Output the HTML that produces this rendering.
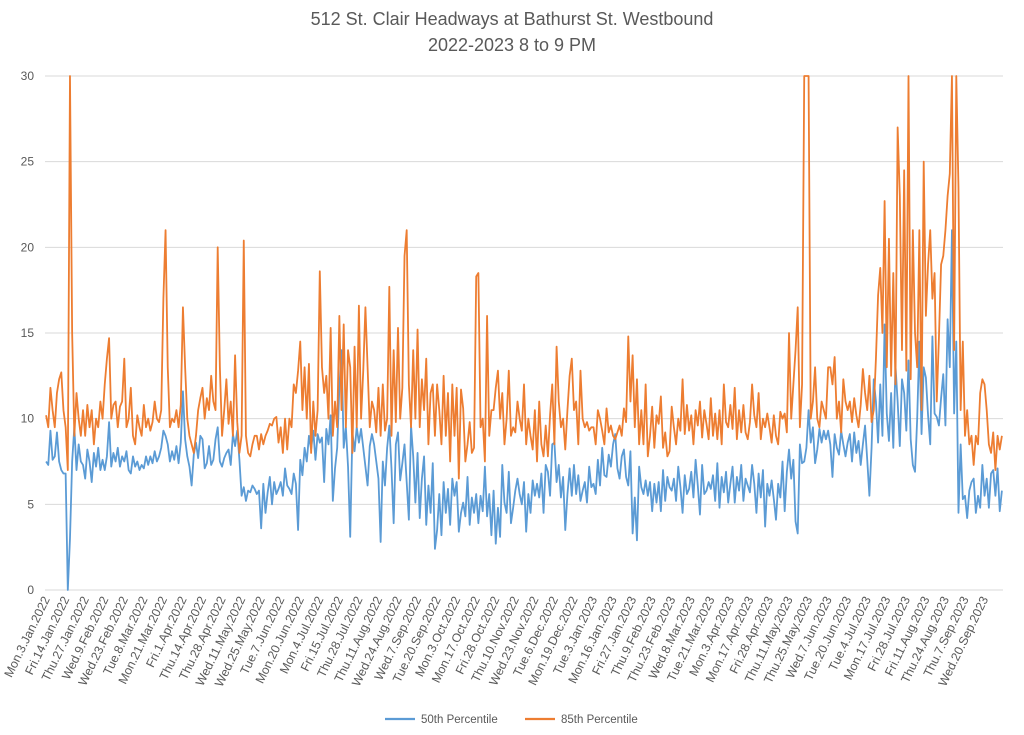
<!DOCTYPE html>
<html><head><meta charset="utf-8"><style>
html,body{margin:0;padding:0;background:#fff;}
svg{display:block;font-family:"Liberation Sans",sans-serif;}
</style></head><body>
<svg id="chart" width="1024" height="735" viewBox="0 0 1024 735">
<text x="512" y="25" text-anchor="middle" font-size="18" fill="#595959">512 St. Clair Headways at Bathurst St. Westbound</text>
<text x="512" y="51" text-anchor="middle" font-size="18" fill="#595959">2022-2023 8 to 9 PM</text>
<g id="grid"></g><g id="yticks"></g><g id="xticks"></g><g id="series"></g>
<g>
<line x1="385" y1="719" x2="415" y2="719" stroke="#5b9bd5" stroke-width="2.2"/>
<text x="421" y="723" font-size="11.5" fill="#595959">50th Percentile</text>
<line x1="525" y1="719" x2="555" y2="719" stroke="#ed7d31" stroke-width="2.2"/>
<text x="561" y="723" font-size="11.5" fill="#595959">85th Percentile</text>
</g>
</svg>
<script>
const yTicks=[0,5,10,15,20,25,30];
const dateLabels=["Mon.3.Jan.2022","Fri.14.Jan.2022","Thu.27.Jan.2022","Wed.9.Feb.2022","Wed.23.Feb.2022","Tue.8.Mar.2022","Mon.21.Mar.2022","Fri.1.Apr.2022","Thu.14.Apr.2022","Thu.28.Apr.2022","Wed.11.May.2022","Wed.25.May.2022","Tue.7.Jun.2022","Mon.20.Jun.2022","Mon.4.Jul.2022","Fri.15.Jul.2022","Thu.28.Jul.2022","Thu.11.Aug.2022","Wed.24.Aug.2022","Wed.7.Sep.2022","Tue.20.Sep.2022","Mon.3.Oct.2022","Mon.17.Oct.2022","Fri.28.Oct.2022","Thu.10.Nov.2022","Wed.23.Nov.2022","Tue.6.Dec.2022","Mon.19.Dec.2022","Tue.3.Jan.2023","Mon.16.Jan.2023","Fri.27.Jan.2023","Thu.9.Feb.2023","Thu.23.Feb.2023","Wed.8.Mar.2023","Tue.21.Mar.2023","Mon.3.Apr.2023","Mon.17.Apr.2023","Fri.28.Apr.2023","Thu.11.May.2023","Thu.25.May.2023","Wed.7.Jun.2023","Tue.20.Jun.2023","Tue.4.Jul.2023","Mon.17.Jul.2023","Fri.28.Jul.2023","Fri.11.Aug.2023","Thu.24.Aug.2023","Thu.7.Sep.2023","Wed.20.Sep.2023"];
const p85=[10.2,9.5,11.8,10.5,9.5,11.5,12.3,12.7,10.5,
9.5,7,30,15,9,11.5,10,9,10.5,
9,10.8,9.5,10.5,8.5,10,9.5,11,10,
12,13.5,14.7,10,10.8,11,9.5,10.7,11,
13.5,9.5,10,11.8,9,8.5,10.2,9.5,9,
10.8,9.5,10,9.3,9.8,11,10,9.8,10.5,
17,21,13,9.5,10,9.8,10.5,9.5,10.8,
16.5,13,10,9,8.5,8,9,10.5,11.2,
11.8,10,11.2,10.5,12.5,11,10.5,20,13,
9,10.5,12.3,9.7,11,9,13.7,9.8,8,
9,20.4,9,8,7.8,8.5,9,9,8.2,
9.1,8.5,9,9.3,9.7,9.6,10,10.1,8.6,
9.5,8,10,8.2,10,9.5,12,11.5,12.8,
14.5,10.5,13,10,13.2,8,11,9,10.5,
18.6,13,11.5,12.5,10,15.3,9,11,9.5,
16,10.5,15.5,9.5,14,13,8,14.2,9.5,
16.6,10,12.8,16.5,13,9.5,11,10.5,9.2,
11.8,9,12,9.3,10,17.7,9,14,9.8,
15.3,10,11.8,19.5,21,12,9.5,14,10,
15.2,9.5,12.3,10.5,13.5,8.5,11.5,12,9,
12,10.5,8.5,12.5,9,11.5,7.5,12,9,
11.8,6.5,11.7,10.6,7.5,8.5,9.8,8,8.3,
18.3,18.5,9.5,10,7.5,16,9,10.5,10.5,
11.8,12.8,10,11.5,8.5,10,12.8,9,9.5,
9.2,11,10,9.3,12,8.5,10,9,8.2,
10.5,7.5,11,8.5,7.8,9.6,7.8,10.2,12,
8.5,14.2,11,9.5,10,8.2,10.5,12.5,13.5,
10.5,11,8.5,12.8,10,9.5,9.8,9.3,9.5,
9.5,8.5,10.5,10,9.3,8.5,10.6,9.2,9.6,
9,8.8,9.2,9.6,9,10.6,9.8,14.8,11,
13.7,9.5,12.3,8.5,10.5,8.5,12,7.8,9,
10.7,8.3,10.2,9.7,11.3,8.3,9.2,7.8,8.1,
10.7,9.5,8.5,10,9.3,12.3,9.1,10.8,9.3,
10.2,8.5,10.5,9.6,11,8.9,10.5,9.7,8.8,
11.2,9,10.3,8.8,10.5,8.5,12,9.8,9.5,
10.8,9.4,11.8,8.8,10.5,9.2,10.8,9.2,8.8,
9.8,12,10.2,9.5,11.5,8.8,10,9.5,10.3,
9.5,8.6,10.2,9,8.5,10.4,10,10.3,9.2,
15,10,12,14,16.5,9.5,12,30,30,
30,10,11,13,10,9.5,11,10.5,10,
13,13,12,13.6,10,11,9.2,12.3,11,
10.5,11,9.8,11.2,10.2,9.5,10.8,12.9,11.5,
10.5,12.5,9.8,10.5,13.5,17.2,18.8,15,22.7,
13,20.5,12.5,18.5,12,27,23,14,24.5,
12.8,30,12.3,21,15,13,21,10.5,25,
16,19,21,17,18.5,11,14.7,19,19.5,
21,23,24.3,30,14,30,23.5,10.5,14.5,
9,10.5,8.5,9,7.3,9,8.5,11.5,12.3,
12,10.5,8.5,8,9.2,7,9,8.2,9];
const p50=[7.5,7.3,9.3,7.6,7.8,9.2,7.5,7.0,6.8,
6.8,0,3,7.5,9.5,7,8.5,7.5,7.3,
6.5,8.2,7.5,6.3,8,7.2,8.3,7,7.6,
7,7.8,9.8,7.2,8,7.5,8.3,7.2,7.8,
7.5,8.1,7,6.8,7.8,7.2,7.5,7,7.3,
7.1,7.8,7.3,7.8,7.4,8.1,7.5,7.8,8.3,
9.3,9.0,8.5,7.5,8.1,7.6,8.4,7.4,8.6,
11.6,8.8,7.8,7.2,6.1,7.9,8.6,7.7,9,
8.8,7.1,7.4,8.4,7.3,7.6,8.8,9.5,7.5,
7.2,7.7,8,8.2,7.3,9.1,8.4,9.3,7.6,
5.5,6,5.2,5.8,5.7,6.1,5.9,5.6,5.8,
3.6,6.2,4.5,5.7,6.6,5,6.3,5.6,5.9,
6.3,5.5,7.1,6.1,5.9,5.6,6.8,6.2,3.5,
7.6,6.7,8.3,7.5,9,8.2,9.3,7.6,9.1,
8.6,8.9,6.3,9.4,8.5,10.2,5.2,7.1,8.3,
11.8,14,8.3,9.5,7.2,3.1,9.2,8.1,9.5,
8.6,9.4,8.3,7.2,6.1,8.4,9.1,8.5,7.5,
6.5,2.8,7.5,6.1,8.3,9.6,7.1,3.9,8.5,
9.2,6.4,7.4,8.5,6.3,4.1,9.6,7.8,5.1,
8,4.2,6.5,7.8,3.8,6.1,4.5,7.4,2.4,
3.5,5.6,3.2,6.3,4.5,5.9,3.8,6.5,5.5,
6.3,3.4,4.5,5.1,4.3,6.6,3.8,5.4,4.5,
5.6,3.9,5.5,4.6,7.2,4.3,5.6,3.2,5.8,
2.7,4.8,3.1,7.3,5.1,4.5,6.9,3.9,4.8,
5.8,6.5,5.6,5,6.3,3.4,5.6,4.5,6.4,
5.5,6.2,5.4,6.8,4.5,7.3,6.9,5.5,8.5,
8.6,6.3,7.3,5.4,6.6,3.5,5.6,7.1,5.5,
7.3,5.6,6.7,5.2,5.8,6.3,5.1,7.2,6,
6.2,5.6,7.6,6.1,8.3,6.7,6.6,7.9,7.2,
8.5,9.1,7.1,6.5,7.8,8.2,6.6,6.1,8.1,
3.3,5.4,2.9,7.2,6,5.6,6.4,5.5,6.3,
4.6,6.2,5.1,6.3,4.6,7,5.2,6.6,6,
5.8,6.5,5.2,7.2,6,4.5,6.7,5.6,5.9,
6.9,5.4,7.6,6.1,4.4,7.3,5.6,5.8,6.3,
5.9,6.7,5.2,7.4,4.8,6.6,5.7,6.9,5.1,
6.2,7.2,5.1,6.6,5.8,7.3,5.2,6.5,6.1,
5.7,7.3,6.2,4.5,6.8,5.4,7,3.7,6.2,
5.5,6.4,5.3,4.1,6.2,5.4,7.5,4.6,6.9,
8.2,6.5,7.6,4,3.3,8.5,7.4,7.5,8.3,
10.5,8.6,9.5,7.4,8.2,9.4,8.6,9.3,8.8,
9.3,8.5,6.6,9.1,8.3,7.9,9.3,8.5,7.8,
8.6,9.1,7.5,9.2,8,8.7,7.3,8.5,9.6,
7.6,5.5,8.3,12.3,11,8.6,12,9,15.5,
10.3,8.7,11.5,8.3,13.1,11,8.4,12.3,11.5,
9.3,13.4,8.8,7.3,6.9,10,14.5,9.1,13,
12.4,10.2,8.5,14.8,10.3,10.1,9.6,11.2,12.6,
9.6,15.8,13,21,10.3,14.5,4.5,8.5,5.3,
5.5,4.2,5.8,6.3,6.5,4.5,5.5,4.8,7.3,
5.5,6.5,4.8,6.8,7,5.5,7.1,4.6,5.8];
const NS='http://www.w3.org/2000/svg';
const L=45,R=1003,T=76,B=590,YMAX=30,LABEL_EVERY=9;
const N=p85.length;
function xs(i){return L+(i+0.5)*(R-L)/N;}
function ys(v){return B-Math.min(v,YMAX)/YMAX*(B-T);}
function mk(tag,attrs,parent){const e=document.createElementNS(NS,tag);for(const k in attrs)e.setAttribute(k,attrs[k]);parent.appendChild(e);return e;}
const grid=document.getElementById('grid'),yt=document.getElementById('yticks'),xt=document.getElementById('xticks'),ser=document.getElementById('series');
yTicks.forEach(v=>{
 const g=mk('line',{x1:L,x2:R,y1:ys(v),y2:ys(v),stroke:'#d9d9d9','stroke-width':1},grid);
 
 
 const t=mk('text',{x:34,y:ys(v)+4,'text-anchor':'end','font-size':12,fill:'#595959'},yt);
 
 
 t.textContent=v;
});
dateLabels.forEach((s,k)=>{
 const x=xs(k*LABEL_EVERY)+4,y=599;
 const t=mk('text',{x:x,y:y,'text-anchor':'end','font-size':12.3,fill:'#595959',transform:'rotate(-64 '+x+' '+y+')'},xt);
 
 
 t.textContent=s;
});
function line(arr,color,name){
 const d=arr.map((v,i)=>(i?'L':'M')+xs(i).toFixed(2)+' '+ys(v).toFixed(2)).join(' ');
 const p=mk('path',{d:d,fill:'none',stroke:color,'stroke-width':1.8,'stroke-linejoin':'round'},ser);
 
 
}
line(p50,'#5b9bd5','series-50th-percentile');
line(p85,'#ed7d31','series-85th-percentile');
</script>
</body></html>
